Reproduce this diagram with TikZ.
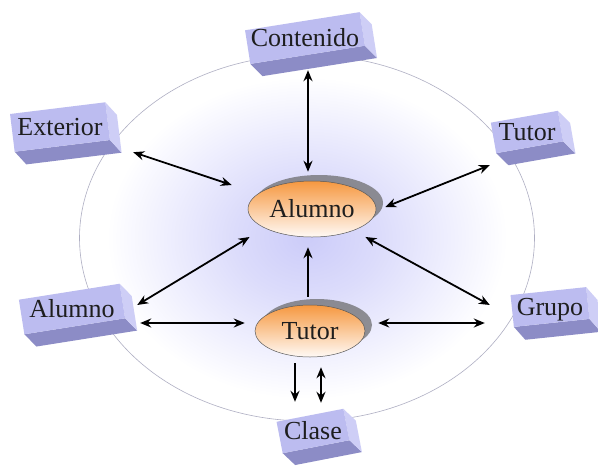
\documentclass[tikz,border=0pt]{standalone}
\usepackage{fontspec}
\setmainfont{Liberation Serif}
\newfontfamily\lblfont{Liberation Serif}
\usetikzlibrary{arrows.meta,calc,shapes.geometric,shadows}
\definecolor{boxfront}{RGB}{188,188,240}
\definecolor{boxside}{RGB}{206,206,246}
\definecolor{boxbot}{RGB}{140,140,198}
\definecolor{glowa}{RGB}{204,204,249}
\definecolor{glowb}{RGB}{220,220,251}
\definecolor{glowc}{RGB}{240,240,254}
\definecolor{ovaltop}{RGB}{246,152,64}
\definecolor{ovalbot}{RGB}{255,250,246}
\definecolor{ringc}{RGB}{175,175,195}
\definecolor{labelc}{RGB}{30,30,30}
\pgfdeclareradialshading{glow}{\pgfpoint{0bp}{0bp}}{color(0bp)=(glowa); color(8bp)=(glowb); color(16bp)=(glowc); color(22bp)=(white); color(50bp)=(white)}
\newcommand\blockbox[7]{%
  \begin{scope}[shift={(#2,#3)}, rotate=#4]
    \fill[boxbot] (-#5/2,#6/2) -- (#5/2,#6/2) -- (#5/2+10,#6/2+14) -- (-#5/2+10,#6/2+14) -- cycle;
    \fill[boxside] (#5/2,-#6/2) -- (#5/2+10,-#6/2+14) -- (#5/2+10,#6/2+14) -- (#5/2,#6/2) -- cycle;
    \fill[boxfront] (-#5/2,-#6/2) rectangle (#5/2,#6/2);
  \end{scope}
  \node[boxlabel, minimum width=#5pt, minimum height=#6pt] (#1) at (#2,#3) {#7};
}
\begin{document}
\begin{tikzpicture}[x=1pt,y=-1pt,
  boxlabel/.style={inner sep=0pt, text=labelc, font=\lblfont\fontsize{26}{26}\selectfont, text height=17pt, text depth=0pt},
  oval/.style={ellipse, inner sep=0pt, draw=black!65, line width=0.5pt, top color=ovaltop, bottom color=ovalbot,
     text=labelc, font=\lblfont\fontsize{26}{26}\selectfont, text height=17pt, text depth=0pt,
     drop shadow={shadow xshift=7pt, shadow yshift=6pt, fill=black!60, opacity=0.7}},
  dbl/.style={{Stealth[length=11pt,width=9pt]}-{Stealth[length=11pt,width=9pt]}, line width=1.8pt},
  sgl/.style={-{Stealth[length=11pt,width=9pt]}, line width=1.8pt},
  ring/.style={draw=ringc, line width=0.6pt}]
\useasboundingbox (0,0) rectangle (598,467);
\fill[white] (0,0) rectangle (598,467);
\shade[shading=glow] (307,238) ellipse [x radius=227.5, y radius=183];
\draw[ring] (307,238) ellipse [x radius=227.5, y radius=183];

\blockbox{cont}{305}{38}{9}{116}{34}{Contenido}
\blockbox{ext}{60}{127}{7}{96}{38}{Exterior}
\blockbox{tutR}{527}{132}{10}{68}{31}{Tutor}
\blockbox{alL}{72}{309}{9}{102}{35}{Alumno}
\blockbox{grp}{550}{307}{6}{76}{32}{Grupo}
\blockbox{cla}{313}{431}{11}{68}{32}{Clase}

\node[oval, minimum width=128pt, minimum height=56pt] (alu) at (312,209) {Alumno};
\node[oval, minimum width=110pt, minimum height=52pt] (tut) at (310,331) {Tutor};

\draw[dbl] ($(cont.south)+(3,15)$) -- ($(alu.north)+(-4,-9)$);
\draw[dbl] ($(ext.south east)+(25,6)$) -- ($(alu.west)+(-16,-24)$);
\draw[dbl] ($(tutR.south west)+(-3,17.5)$) -- ($(alu.east)+(9,-2)$);
\draw[dbl] ($(alL.east)+(14,-4)$) -- ($(alu.south west)+(-17,8)$);
\draw[dbl] ($(grp.west)+(-22,-2)$) -- ($(alu.south east)+(8,8)$);
\draw[sgl] ($(tut.north)+(-2,-8)$) -- ($(alu.south)+(-4,10)$);
\draw[dbl] ($(alL.east)+(17,14)$) -- ($(tut.west)+(-10,-8)$);
\draw[dbl] ($(tut.east)+(13,-8)$) -- ($(grp.west)+(-27,16)$);
\draw[sgl] ($(tut.south)+(-15,6)$) -- ($(cla.north)+(-18,-13)$);
\draw[dbl] ($(tut.south)+(11,10)$) -- ($(cla.north)+(8,-12)$);
\end{tikzpicture}
\end{document}
